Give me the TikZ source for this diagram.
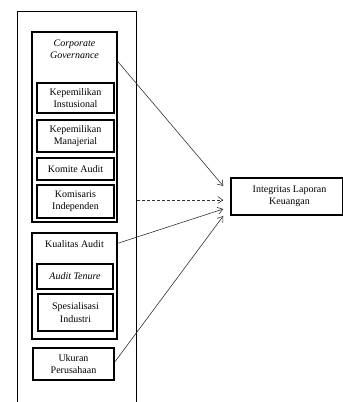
\documentclass[tikz,border=0pt]{standalone}
\usepackage{fontspec}
\setmainfont{Liberation Serif}
\usetikzlibrary{arrows.meta}
\begin{document}
\begin{tikzpicture}[x=1pt,y=-1pt,
  every node/.style={font=\fontsize{10}{12.5}\selectfont, align=center, inner sep=0pt},
  outerbox/.style={draw, line width=1pt},
  groupbox/.style={draw, line width=1.3pt},
  itembox/.style={draw, line width=1.5pt},
  arr/.style={-{Straight Barb[length=5pt,width=7pt]}, line width=0.6pt, draw=black!80},
]
\useasboundingbox (0,0) rectangle (343,402);
\clip (0,0) rectangle (343,402);
\node[outerbox, minimum width=119pt, minimum height=400pt, anchor=north west] (outer) at (17,11) {};
\node[groupbox, minimum width=85pt, minimum height=190pt] (CG) at (74.5,127) {};
\node (cgt) at (74.5,49) {\itshape Corporate\\\itshape Governance};
\node[itembox, minimum width=77pt, minimum height=30pt] (KI) at (75.5,98) {Kepemilikan\\Instusional};
\node[itembox, minimum width=77pt, minimum height=32pt] (KM) at (75.5,136) {Kepemilikan\\Manajerial};
\node[itembox, minimum width=77pt, minimum height=22pt] (KA) at (75.5,169) {Komite Audit};
\node[itembox, minimum width=77pt, minimum height=33pt] (KInd) at (75.5,201.5) {Komisaris\\Independen};
\node[groupbox, minimum width=85pt, minimum height=106pt] (QA) at (74.5,286) {};
\node (qat) at (74.5,244) {Kualitas Audit};
\node[itembox, minimum width=76pt, minimum height=25pt] (AT) at (75,276.5) {\itshape Audit Tenure};
\node[itembox, minimum width=75pt, minimum height=37pt] (SI) at (75.5,312.5) {Spesialisasi\\Industri};
\node[itembox, minimum width=81pt, minimum height=32pt] (UP) at (73.5,364) {Ukuran\\Perusahaan};
\node[itembox, minimum width=112pt, minimum height=37pt] (ILK) at (287,196.5) {\hspace*{5pt}Integritas Laporan\\\hspace*{5pt}Keuangan};
\draw[arr] ([yshift=-30pt]CG.north east) -- ([xshift=-7pt,yshift=10.5pt]ILK.west);
\draw[arr, dash pattern=on 3pt off 2pt] ([yshift=-189pt]outer.north east) -- ([xshift=-7pt,yshift=-3.5pt]ILK.west);
\draw[arr] ([yshift=-11pt]QA.north east) -- ([xshift=-7pt,yshift=-12.5pt]ILK.west);
\draw[arr] ([yshift=2pt]UP.east) -- ([xshift=-7pt,yshift=-19.5pt]ILK.west);
\end{tikzpicture}
\end{document}
